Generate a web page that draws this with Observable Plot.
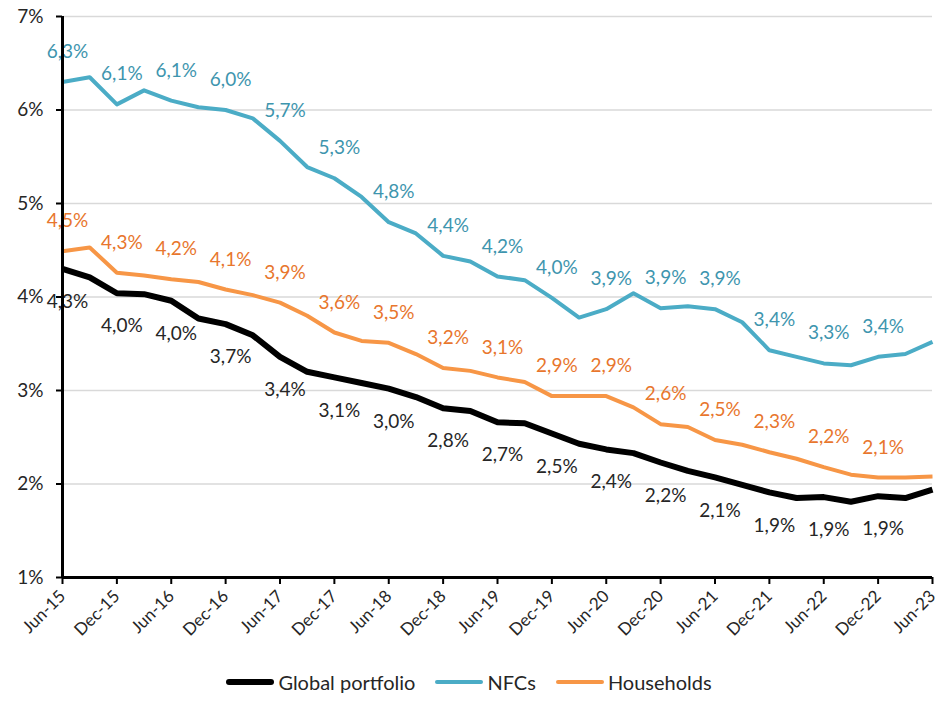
<!DOCTYPE html>
<html>
<head>
<meta charset="utf-8">
<script src="https://cdn.jsdelivr.net/npm/d3@7"></script>
<script src="https://cdn.jsdelivr.net/npm/@observablehq/plot@0.6"></script>
<style>
  html, body { margin: 0; padding: 0; background: #fff; }
  body { width: 938px; font-family: Lato, "Open Sans", sans-serif; }
  #legend { display: flex; justify-content: center; align-items: center; gap: 0; height: 60px; margin-top: 2px; font-size: 20px; color: #262626; }
  .item { display: flex; align-items: center; margin: 0 10px; }
  .sw { display: inline-block; width: 48px; border-radius: 3px; margin-right: 4px; }
</style>
</head>
<body>
<div id="chart"></div>
<div id="legend"></div>
<script>
const quarters = ["Jun-15","Sep-15","Dec-15","Mar-16","Jun-16","Sep-16","Dec-16","Mar-17","Jun-17","Sep-17","Dec-17","Mar-18","Jun-18","Sep-18","Dec-18","Mar-19","Jun-19","Sep-19","Dec-19","Mar-20","Jun-20","Sep-20","Dec-20","Mar-21","Jun-21","Sep-21","Dec-21","Mar-22","Jun-22","Sep-22","Dec-22","Mar-23","Jun-23"];
const globalPortfolio = [4.30,4.21,4.04,4.03,3.96,3.77,3.71,3.59,3.36,3.20,3.14,3.08,3.02,2.93,2.81,2.78,2.66,2.65,2.54,2.43,2.37,2.33,2.23,2.14,2.07,1.99,1.91,1.85,1.86,1.81,1.87,1.85,1.94];
const nfcs = [6.30,6.35,6.06,6.21,6.10,6.03,6.00,5.91,5.67,5.39,5.27,5.07,4.80,4.68,4.44,4.38,4.22,4.18,3.99,3.78,3.87,4.04,3.88,3.90,3.87,3.73,3.43,3.36,3.29,3.27,3.36,3.39,3.52];
const households = [4.49,4.53,4.26,4.23,4.19,4.16,4.08,4.02,3.94,3.80,3.62,3.53,3.51,3.39,3.24,3.21,3.14,3.09,2.94,2.94,2.94,2.82,2.64,2.61,2.47,2.42,2.34,2.27,2.18,2.10,2.07,2.07,2.08];
const yTicks = [1,2,3,4,5,6,7];

const seriesDefs = [
  {name: "Global portfolio", values: globalPortfolio, line: "#000000", text: "#262626", width: 6, dy: 33},
  {name: "NFCs", values: nfcs, line: "#4BACC6", text: "#3E95AE", width: 4, dy: -30},
  {name: "Households", values: households, line: "#F79646", text: "#E8762D", width: 4, dy: -30}
];

const rows = seriesDefs.flatMap(s => s.values.map((v, i) => ({series: s.name, i, v})));
const labelIdx = quarters.map((q, i) => i).filter(i => i % 2 === 0 && i < quarters.length - 1);
const xTicks = quarters.map((q, i) => i).filter(i => i % 2 === 0);
const fmt = v => v.toFixed(1).replace(".", ",") + "%";

const marks = [
  Plot.gridY(yTicks, {stroke: "#d9d9d9", strokeOpacity: 1, strokeWidth: 1.3}),
];
for (const s of [seriesDefs[1], seriesDefs[2], seriesDefs[0]]) {
  marks.push(Plot.line(rows.filter(r => r.series === s.name), {x: "i", y: "v", stroke: s.line, strokeWidth: s.width, strokeLinejoin: "round", strokeLinecap: "butt"}));
}
for (const s of seriesDefs) {
  marks.push(Plot.text(rows.filter(r => r.series === s.name && labelIdx.includes(r.i)), {
    x: "i", y: "v", text: d => fmt(d.v), dx: 5, dy: s.dy, fill: s.text, fontSize: 19, textAnchor: "middle"
  }));
}
marks.push(
  Plot.axisY(yTicks, {tickFormat: d => d + "%", tickSize: 6, tickPadding: 13, fontSize: 19, strokeWidth: 2, stroke: "#000", fill: "#262626"}),
  Plot.axisX(xTicks, {tickFormat: () => "", tickSize: 7, strokeWidth: 2, stroke: "#000"}),
  Plot.axisX(xTicks, {tickFormat: i => quarters[i], tickRotate: -45, tickSize: 0, tickPadding: 16, dx: 0, fontSize: 17, fill: "#262626"}),
  Plot.ruleX([0], {stroke: "#000", strokeWidth: 3}),
  Plot.ruleY([1], {stroke: "#000", strokeWidth: 3})
);

const chart = Plot.plot({
  width: 938,
  height: 650,
  marginLeft: 62,
  marginRight: 6,
  marginTop: 16,
  marginBottom: 73,
  style: {fontFamily: "Lato, 'Open Sans', sans-serif", background: "#fff", overflow: "visible"},
  x: {domain: [0, quarters.length - 1], label: null},
  y: {domain: [1, 7], label: null},
  marks
});
document.getElementById("chart").appendChild(chart);

const legend = document.getElementById("legend");
for (const s of seriesDefs) {
  const item = document.createElement("div");
  item.className = "item";
  const sw = document.createElement("span");
  sw.className = "sw";
  sw.style.height = (s.width) + "px";
  sw.style.background = s.line;
  const label = document.createElement("span");
  label.textContent = s.name;
  item.appendChild(sw);
  item.appendChild(label);
  legend.appendChild(item);
}
</script>
</body>
</html>
